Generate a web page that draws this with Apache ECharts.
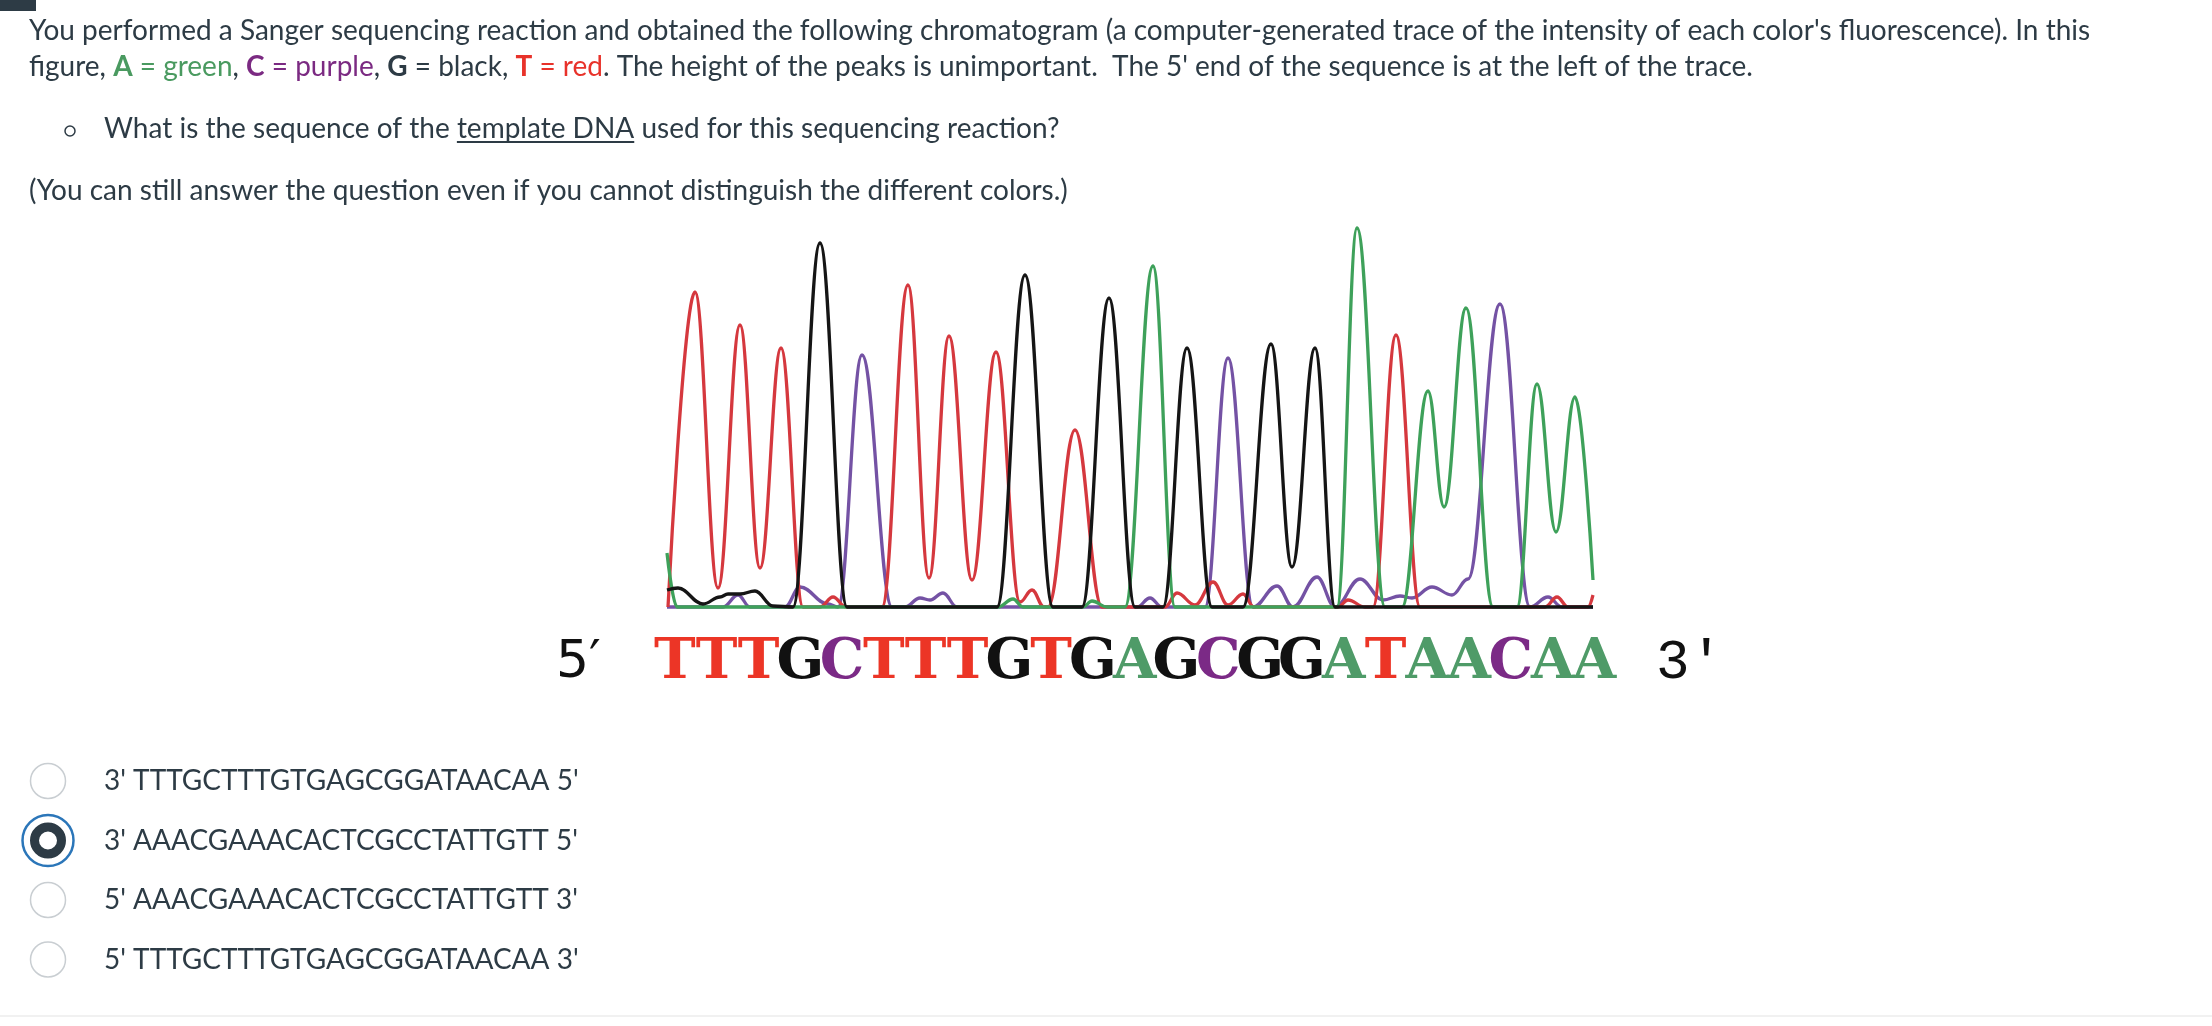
<html>
<head>
    <meta charset="utf-8">
    <script src="https://cdn.jsdelivr.net/npm/echarts@6/dist/echarts.min.js"></script>
    <style>
        html, body { margin: 0; padding: 0; background: #fff; }
        #main { width: 2212px; height: 1026px; }
    </style>
</head>
<body>
<div id="main"></div>
<script>
    // trace points per dye channel: [scan, intensity]
    var traceT = [[1, 0], [28, 315], [51, 19], [73, 282], [93, 39], [114, 259], [136, 0], [153, 0], [166, 10], [179, 0],
        [215, 0], [241, 322], [262, 29], [282, 271], [305, 27], [329, 255], [353, 5], [365, 17], [377, 0], [381, 0],
        [408, 177], [435, 0], [498, 0], [510, 14], [528, 2], [546, 25], [561, 2], [576, 13], [587, 0], [671, 0],
        [681, 7], [698, 0], [706, 0], [729, 272], [753, 0], [878, 0], [890, 10], [901, 0], [921, 0], [926, 12]];
    var traceG = [[0, 17], [11, 19], [36, 3], [53, 10], [61, 13], [73, 13], [88, 16], [106, 1], [126, 0], [153, 364],
        [180, 0], [330, 0], [358, 332], [386, 0], [415, 0], [442, 309], [468, 0], [496, 0], [520, 259], [545, 0],
        [576, 0], [604, 263], [625, 40], [648, 259], [668, 0], [926, 0]];
    var traceC = [[0, 0], [56, 0], [71, 12], [83, 0], [118, 0], [133, 20], [161, 3], [171, 0], [195, 252], [225, 0],
        [238, 0], [253, 9], [263, 7], [276, 14], [290, 0], [470, 0], [483, 9], [495, 0], [538, 0], [561, 249],
        [586, 0], [610, 21], [626, 0], [650, 30], [668, 0], [693, 28], [716, 7], [733, 11], [745, 9], [765, 20],
        [785, 12], [801, 28], [833, 303], [863, 0], [881, 10], [895, 0], [926, 0]];
    var traceA = [[0, 54], [10, 0], [331, 0], [346, 8], [356, 0], [416, 0], [425, 6], [440, 0], [458, 0], [486, 341],
        [508, 0], [670, 0], [690, 379], [718, 0], [735, 0], [761, 216], [777, 100], [799, 299], [826, 0], [850, 0],
        [870, 223], [889, 75], [908, 210], [926, 27]];

    var sequence = 'TTTGCTTTGTGAGCGGATAACAA';
    var answers = [
        "3' TTTGCTTTGTGAGCGGATAACAA 5'",
        "3' AAACGAAACACTCGCCTATTGTT 5'",
        "5' AAACGAAACACTCGCCTATTGTT 3'",
        "5' TTTGCTTTGTGAGCGGATAACAA 3'"
    ];
    var selectedAnswer = 1;

    var ink = '#2d3b45';
    var baseColors = {A: '#4f9b68', C: '#7b2a86', G: '#111111', T: '#ec3526'};
    var traceColors = {A: '#3ea15a', C: '#7452a4', G: '#151515', T: '#d5383e'};

    var chart = echarts.init(document.getElementById('main'));

    var measure = document.createElement('canvas').getContext('2d');
    measure.font = '28px Lato';
    var ulX = 104 + measure.measureText('What is the sequence of the ').width;
    var ulW = measure.measureText('template DNA').width;

    var seqRich = {};
    Object.keys(baseColors).forEach(function (b) {
        seqRich[b] = {
            fontFamily: 'DejaVu Serif',
            fontWeight: 'bold',
            fontSize: 56,
            fill: baseColors[b],
            width: 41.8,
            align: 'center'
        };
    });
    var seqText = sequence.split('').map(function (b) {
        return '{' + b + '|' + b + '}';
    }).join('');

    var graphics = [
        {type: 'rect', shape: {x: 0, y: 0, width: 36, height: 11}, style: {fill: ink}},
        {
            type: 'text', x: 29, y: 31,
            style: {
                text: "You performed a Sanger sequencing reaction and obtained the following chromatogram (a computer-generated trace of the intensity of each color's fluorescence). In this",
                font: '28px Lato', fill: ink, verticalAlign: 'middle'
            }
        },
        {
            type: 'text', x: 29, y: 67,
            style: {
                text: "figure, {ab|A}{a| = green}, {cb|C}{c| = purple}, {gb|G} = black, {tb|T}{t| = red}. The height of the peaks is unimportant.  The 5' end of the sequence is at the left of the trace.",
                font: '28px Lato', fill: ink, verticalAlign: 'middle',
                rich: {
                    ab: {font: 'bold 28px Lato', fill: '#4a9a60'},
                    a: {font: '28px Lato', fill: '#4a9a60'},
                    cb: {font: 'bold 28px Lato', fill: '#7b2a82'},
                    c: {font: '28px Lato', fill: '#7b2a82'},
                    gb: {font: 'bold 28px Lato', fill: ink},
                    tb: {font: 'bold 28px Lato', fill: '#e8322a'},
                    t: {font: '28px Lato', fill: '#e8322a'}
                }
            }
        },
        {type: 'circle', shape: {cx: 70, cy: 131, r: 5}, style: {fill: 'none', stroke: ink, lineWidth: 1.5}},
        {
            type: 'text', x: 104, y: 129,
            style: {
                text: 'What is the sequence of the template DNA used for this sequencing reaction?',
                font: '28px Lato', fill: ink, verticalAlign: 'middle'
            }
        },
        {type: 'line', shape: {x1: ulX, y1: 142, x2: ulX + ulW, y2: 142}, style: {stroke: ink, lineWidth: 2}},
        {
            type: 'text', x: 29, y: 191,
            style: {
                text: '(You can still answer the question even if you cannot distinguish the different colors.)',
                font: '28px Lato', fill: ink, verticalAlign: 'middle'
            }
        },
        {
            type: 'text', x: 556, y: 663,
            style: {text: '5\u2032', font: '52px "DejaVu Sans"', fill: '#111', verticalAlign: 'middle'}
        },
        {
            type: 'text', x: 654, y: 663,
            style: {text: seqText, rich: seqRich, font: 'bold 56px "DejaVu Serif"', verticalAlign: 'middle'}
        },
        {
            type: 'text', x: 1656, y: 663,
            style: {text: "3'", font: '56px "Liberation Mono"', fill: '#111', verticalAlign: 'middle'}
        },
        {type: 'line', shape: {x1: 0, y1: 1016, x2: 2212, y2: 1016}, style: {stroke: '#ececec', lineWidth: 1.5}}
    ];

    answers.forEach(function (txt, i) {
        var cy = 781 + i * 59.5;
        if (i === selectedAnswer) {
            graphics.push({type: 'circle', shape: {cx: 48, cy: cy, r: 25.5}, style: {fill: '#fff', stroke: '#2b76b9', lineWidth: 2.5}});
            graphics.push({type: 'circle', shape: {cx: 48, cy: cy, r: 13.5}, style: {fill: '#fff', stroke: ink, lineWidth: 9}});
        } else {
            graphics.push({type: 'circle', shape: {cx: 48, cy: cy, r: 17.5}, style: {fill: '#fff', stroke: '#c9ced2', lineWidth: 1.5}});
        }
        graphics.push({
            type: 'text', x: 104, y: cy,
            style: {text: txt, font: '28px Lato', fill: ink, verticalAlign: 'middle'}
        });
    });

    function traceSeries(name, data) {
        return {
            name: name,
            type: 'line',
            data: data,
            symbol: 'none',
            smooth: 0.4,
            smoothMonotone: 'x',
            clip: false,
            silent: true,
            lineStyle: {color: traceColors[name], width: 3.3}
        };
    }

    var option = {
        animation: false,
        backgroundColor: '#fff',
        grid: {left: 667, top: 207, width: 926, height: 400},
        xAxis: {type: 'value', min: 0, max: 926, show: false},
        yAxis: {type: 'value', min: 0, max: 400, show: false},
        graphic: graphics,
        series: [
            traceSeries('C', traceC),
            traceSeries('T', traceT),
            traceSeries('A', traceA),
            traceSeries('G', traceG)
        ]
    };

    chart.setOption(option);
</script>
</body>
</html>
